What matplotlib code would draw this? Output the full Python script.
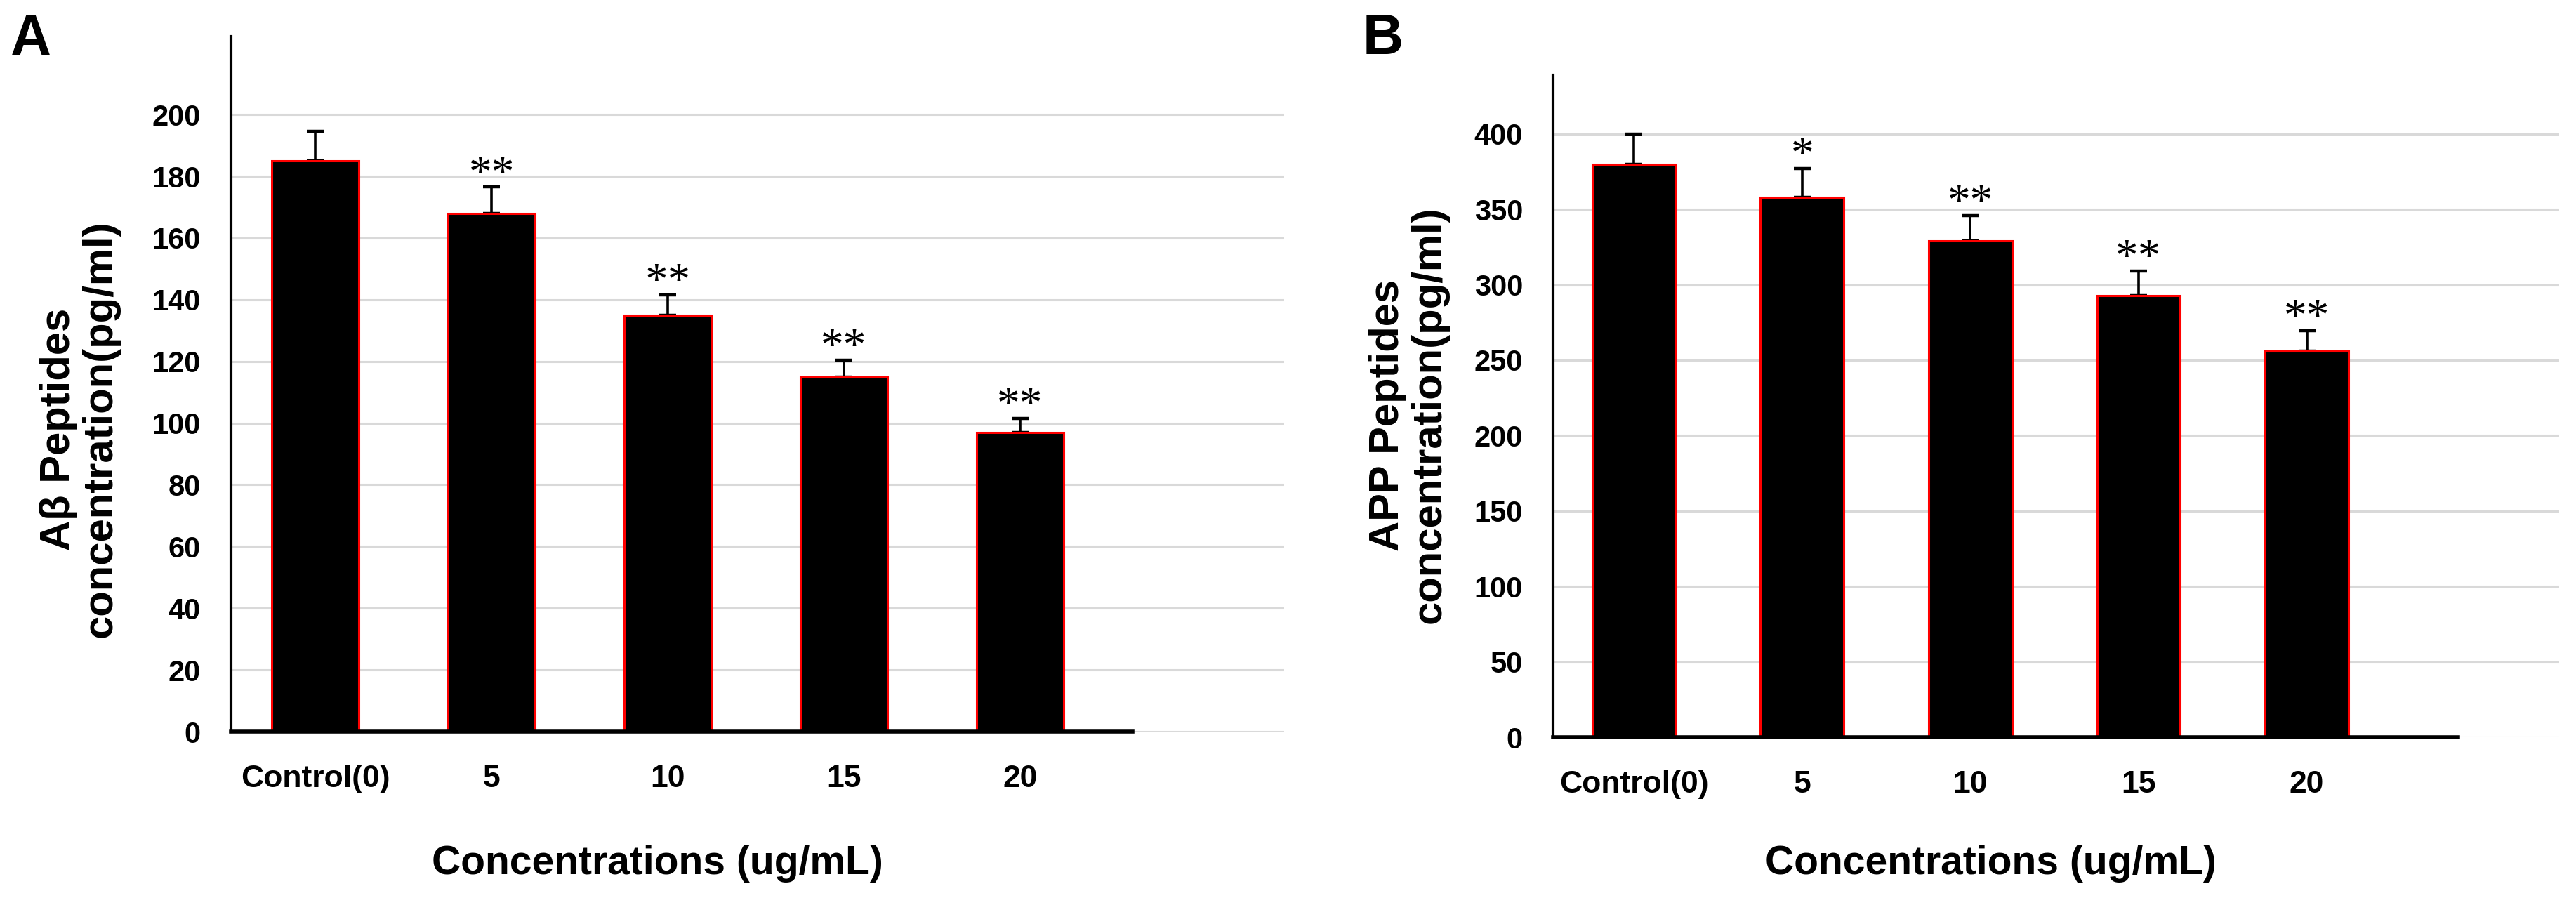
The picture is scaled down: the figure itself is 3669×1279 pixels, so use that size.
import matplotlib
matplotlib.use('Agg')
import matplotlib.pyplot as plt

# data
categories = ['Control(0)', '5', '10', '15', '20']
abeta_mean = [185, 168, 135, 115, 97]
abeta_err = [9.5, 8.5, 6.5, 5.5, 4.5]
abeta_marks = ['', '**', '**', '**', '**']
app_mean = [380, 358, 329, 293, 256]
app_err = [20, 19, 17, 16, 13.5]
app_marks = ['', '*', '**', '**', '**']
abeta_ticks = list(range(0, 201, 20))
app_ticks = list(range(0, 401, 50))

W, H = 3669, 1279
fig = plt.figure(figsize=(W / 100, H / 100), dpi=100)


def rect(x0, y0, x1, y1):
    # pixel box (top-left origin) -> figure fraction
    return [x0 / W, 1 - y1 / H, (x1 - x0) / W, (y1 - y0) / H]


def panel(box, means, errs, marks, ticks, ytop, xend, ylabel, ylab_xy, xlab_x, letter, letter_x):
    ax = fig.add_axes(rect(*box))
    x = list(range(len(categories)))
    ax.bar(x, means, width=0.495, color='black', edgecolor='#ff0000', linewidth=2.2, zorder=2)
    ax.errorbar(x, means, yerr=[[0] * len(errs), errs], fmt='none', ecolor='black',
                elinewidth=2.6, capsize=8.5, capthick=3.2, zorder=1.5)
    for xi, m, e, s in zip(x, means, errs, marks):
        if s:
            ax.annotate(s, (xi, m + e), xytext=(0, 12), textcoords='offset points',
                        ha='center', va='center', fontsize=47, family='Liberation Serif')
    ax.set_xlim(-0.48, 5.5)
    ax.set_ylim(0, ytop)
    ax.set_yticks(ticks)
    ax.set_xticks(x)
    ax.set_xticklabels(categories, fontsize=32, fontweight='bold', family='Liberation Sans')
    for lab in ax.get_yticklabels():
        lab.set_fontsize(30)
        lab.set_fontweight('bold')
        lab.set_family('Liberation Sans')
    ax.tick_params(axis='both', length=0)
    ax.tick_params(axis='y', pad=31)
    ax.tick_params(axis='x', pad=34)
    ax.yaxis.grid(True, color='#d9d9d9', linewidth=2.2, zorder=0.5)
    ax.set_axisbelow(True)
    for side in ['top', 'right']:
        ax.spines[side].set_visible(False)
    ax.spines['left'].set_linewidth(3)
    ax.spines['bottom'].set_linewidth(4)
    ax.spines['bottom'].set_bounds(-0.48, xend)
    ax.spines['bottom'].set_zorder(3)

    fig.text(ylab_xy[0] / W, 1 - ylab_xy[1] / H, ylabel, rotation=90, ha='center', va='center',
             multialignment='center', fontsize=43, fontweight='bold', family='Liberation Sans',
             linespacing=1.1)
    fig.text(xlab_x / W, 1 - 1230 / H, 'Concentrations (ug/mL)', ha='center', va='center',
             fontsize=41, fontweight='bold', family='Liberation Sans')
    fig.text(letter_x / W, 1 - 77 / H, letter, ha='left', va='baseline',
             fontsize=58, fontweight='bold', family='Liberation Sans')
    return ax


panel((329, 52, 1829, 1042), abeta_mean, abeta_err, abeta_marks, abeta_ticks, 225.3, 4.64,
      'A\u03b2 Peptides\nconcentration(pg/ml)', (113, 611), 936, 'A', 15)
panel((2212, 107, 3645, 1050), app_mean, app_err, app_marks, app_ticks, 439, 4.9,
      'APP Peptides\nconcentration(pg/ml)', (2006, 591), 2835, 'B', 1941)

fig.savefig('out.png', dpi=100, facecolor='white')
